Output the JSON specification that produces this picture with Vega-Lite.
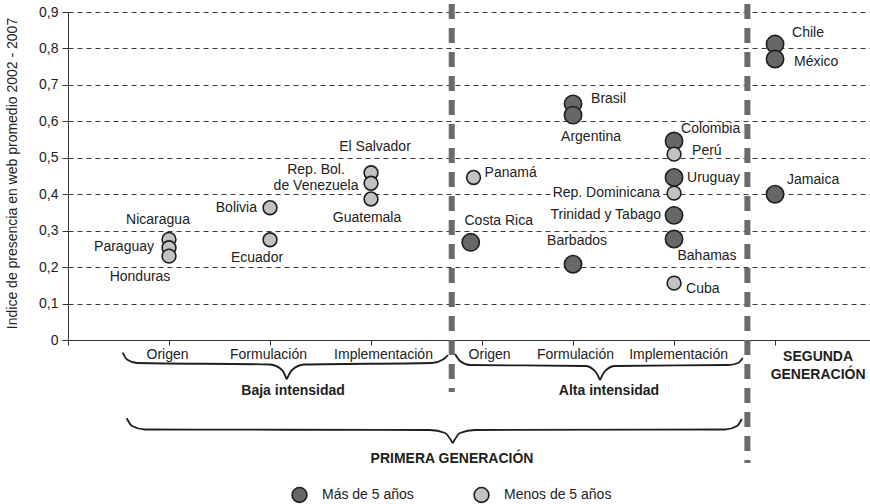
{
  "$schema": "https://vega.github.io/schema/vega-lite/v6.json",
  "width": 802,
  "height": 328,
  "autosize": "none",
  "padding": {"left": 68, "top": 12, "right": 0, "bottom": 164},
  "background": "white",
  "config": {
    "view": {"stroke": null},
    "font": "Liberation Sans",
    "text": {"font": "Liberation Sans", "fontSize": 14, "color": "#222"}
  },
  "datasets": {
    "paises": [
      {"pais": "Nicaragua", "x": 1, "y": 0.276, "antiguedad": "Menos de 5 años"},
      {"pais": "Paraguay", "x": 1, "y": 0.253, "antiguedad": "Menos de 5 años"},
      {"pais": "Honduras", "x": 1, "y": 0.23, "antiguedad": "Menos de 5 años"},
      {"pais": "Bolivia", "x": 2, "y": 0.363, "antiguedad": "Menos de 5 años"},
      {"pais": "Ecuador", "x": 2, "y": 0.275, "antiguedad": "Menos de 5 años"},
      {"pais": "El Salvador", "x": 3, "y": 0.459, "antiguedad": "Menos de 5 años"},
      {"pais": "Rep. Bol.\nde Venezuela", "x": 3, "y": 0.43, "antiguedad": "Menos de 5 años"},
      {"pais": "Guatemala", "x": 3, "y": 0.387, "antiguedad": "Menos de 5 años"},
      {"pais": "Panamá", "x": 4.015, "y": 0.446, "antiguedad": "Menos de 5 años"},
      {"pais": "Costa Rica", "x": 3.987, "y": 0.268, "antiguedad": "Más de 5 años"},
      {"pais": "Brasil", "x": 5, "y": 0.648, "antiguedad": "Más de 5 años"},
      {"pais": "Argentina", "x": 5, "y": 0.617, "antiguedad": "Más de 5 años"},
      {"pais": "Barbados", "x": 5, "y": 0.208, "antiguedad": "Más de 5 años"},
      {"pais": "Colombia", "x": 6, "y": 0.546, "antiguedad": "Más de 5 años"},
      {"pais": "Perú", "x": 6, "y": 0.51, "antiguedad": "Menos de 5 años"},
      {"pais": "Uruguay", "x": 6, "y": 0.446, "antiguedad": "Más de 5 años"},
      {"pais": "Rep. Dominicana", "x": 6, "y": 0.403, "antiguedad": "Menos de 5 años"},
      {"pais": "Trinidad y Tabago", "x": 6, "y": 0.342, "antiguedad": "Más de 5 años"},
      {"pais": "Bahamas", "x": 6, "y": 0.277, "antiguedad": "Más de 5 años"},
      {"pais": "Cuba", "x": 6, "y": 0.156, "antiguedad": "Menos de 5 años"},
      {"pais": "Chile", "x": 7, "y": 0.812, "antiguedad": "Más de 5 años"},
      {"pais": "México", "x": 7, "y": 0.771, "antiguedad": "Más de 5 años"},
      {"pais": "Jamaica", "x": 7, "y": 0.4, "antiguedad": "Más de 5 años"}
    ],
    "divisores": [
      {"x": 3.799, "y": 0.922, "y2": -0.1427},
      {"x": 6.726, "y": 0.922, "y2": -0.3375}
    ],
    "llaves": [
      {"tramo": "baja-a", "x": 0.542, "y": -0.0348},
      {"tramo": "baja-a", "x": 0.584, "y": -0.0535},
      {"tramo": "baja-a", "x": 0.683, "y": -0.0631},
      {"tramo": "baja-a", "x": 2.0, "y": -0.0672},
      {"tramo": "baja-a", "x": 2.119, "y": -0.0823},
      {"tramo": "baja-a", "x": 2.165, "y": -0.1078},
      {"tramo": "baja-b", "x": 2.165, "y": -0.1078},
      {"tramo": "baja-b", "x": 2.218, "y": -0.0823},
      {"tramo": "baja-b", "x": 2.337, "y": -0.0672},
      {"tramo": "baja-b", "x": 3.604, "y": -0.0631},
      {"tramo": "baja-b", "x": 3.713, "y": -0.0535},
      {"tramo": "baja-b", "x": 3.762, "y": -0.0412},
      {"tramo": "alta-a", "x": 3.832, "y": -0.0384},
      {"tramo": "alta-a", "x": 3.881, "y": -0.0576},
      {"tramo": "alta-a", "x": 3.98, "y": -0.0686},
      {"tramo": "alta-a", "x": 5.119, "y": -0.0713},
      {"tramo": "alta-a", "x": 5.218, "y": -0.0851},
      {"tramo": "alta-a", "x": 5.267, "y": -0.1098},
      {"tramo": "alta-b", "x": 5.267, "y": -0.1098},
      {"tramo": "alta-b", "x": 5.317, "y": -0.0851},
      {"tramo": "alta-b", "x": 5.416, "y": -0.0713},
      {"tramo": "alta-b", "x": 6.535, "y": -0.0686},
      {"tramo": "alta-b", "x": 6.634, "y": -0.0631},
      {"tramo": "alta-b", "x": 6.68, "y": -0.0494},
      {"tramo": "prim-a", "x": 0.581, "y": -0.2148},
      {"tramo": "prim-a", "x": 0.634, "y": -0.236},
      {"tramo": "prim-a", "x": 0.762, "y": -0.2456},
      {"tramo": "prim-a", "x": 3.584, "y": -0.247},
      {"tramo": "prim-a", "x": 3.733, "y": -0.2552},
      {"tramo": "prim-a", "x": 3.809, "y": -0.2834},
      {"tramo": "prim-b", "x": 3.809, "y": -0.2834},
      {"tramo": "prim-b", "x": 3.881, "y": -0.2552},
      {"tramo": "prim-b", "x": 4.03, "y": -0.247},
      {"tramo": "prim-b", "x": 6.505, "y": -0.2456},
      {"tramo": "prim-b", "x": 6.624, "y": -0.236},
      {"tramo": "prim-b", "x": 6.671, "y": -0.2168}
    ],
    "notas": [
      {"nota": "Baja intensidad", "x": 2.228, "y": -0.139},
      {"nota": "Alta intensidad", "x": 5.356, "y": -0.139},
      {"nota": "PRIMERA GENERACIÓN", "x": 3.802, "y": -0.3265},
      {"nota": "SEGUNDA\nGENERACIÓN", "x": 7.426, "y": -0.0458}
    ]
  },
  "encoding": {
    "x": {
      "field": "x",
      "type": "quantitative",
      "scale": {"domain": [0, 7.94], "nice": false, "zero": false},
      "axis": {
        "title": null,
        "orient": "bottom",
        "values": [0, 1, 2, 3, 4.1, 5, 6, 7],
        "labelExpr": "datum.value == 1 || datum.value == 4.1 ? 'Origen' : datum.value == 2 || datum.value == 5 ? 'Formulación' : datum.value == 3 || datum.value == 6 ? 'Implementación' : ''",
        "labelOffset": {"condition": [{"test": "datum.value == 3", "value": 12}, {"test": "datum.value == 4.1", "value": 7}, {"test": "datum.value == 6", "value": 4}, {"test": "datum.value == 5", "value": 2}], "value": -2},
        "grid": false,
        "tickSize": 5,
        "labelPadding": 2,
        "labelFont": "Liberation Sans",
        "labelFontSize": 14,
        "labelColor": "#222",
        "labelOverlap": false,
        "labelFlush": false,
        "domainColor": "#333",
        "tickColor": "#333"
      }
    },
    "y": {
      "field": "y",
      "type": "quantitative",
      "scale": {"domain": [0, 0.9], "nice": false, "zero": false},
      "axis": {
        "title": "Indice de presencia en web promedio 2002 - 2007",
        "orient": "left",
        "values": [0, 0.1, 0.2, 0.3, 0.4, 0.5, 0.6, 0.7, 0.8, 0.9],
        "labelExpr": "datum.value == 0 ? '0' : replace(format(datum.value, '.1f'), '.', ',')",
        "grid": true,
        "gridDash": [5, 4],
        "gridColor": "#3a3a3a",
        "gridWidth": 1,
        "tickSize": 6,
        "labelPadding": 4,
        "labelFont": "Liberation Sans",
        "labelFontSize": 14,
        "labelColor": "#222",
        "domainColor": "#333",
        "tickColor": "#333",
        "titleFont": "Liberation Sans",
        "titleFontSize": 14,
        "titleFontWeight": "normal",
        "titleColor": "#222",
        "titleX": -55.5,
        "titleY": 161,
        "titleAngle": -90,
        "titleAlign": "center",
        "titleBaseline": "middle"
      }
    }
  },
  "layer": [
    {
      "data": {"name": "divisores"},
      "mark": {"type": "rule", "stroke": "#6b6b6b", "strokeWidth": 6, "strokeDash": [15, 9]},
      "encoding": {"y2": {"field": "y2"}}
    },
    {
      "data": {"name": "llaves"},
      "mark": {"type": "line", "interpolate": "monotone", "stroke": "#1e1e1e", "strokeWidth": 1.8},
      "encoding": {"detail": {"field": "tramo", "type": "nominal"}}
    },
    {
      "data": {"name": "notas"},
      "mark": {"type": "text", "fontWeight": "bold", "fontSize": 14, "align": "center", "baseline": "middle", "lineBreak": "\n", "lineHeight": 18.3, "color": "#1e1e1e"},
      "encoding": {"text": {"field": "nota"}}
    },
    {
      "data": {"name": "paises"},
      "mark": {"type": "point", "shape": "circle", "filled": true, "opacity": 1, "stroke": "#1e1e1e", "strokeWidth": 1.6},
      "encoding": {
        "fill": {
          "field": "antiguedad",
          "type": "nominal",
          "scale": {"domain": ["Más de 5 años", "Menos de 5 años"], "range": ["#676767", "#c2c2c2"]},
          "legend": {
            "orient": "none",
            "legendX": 223,
            "legendY": 474,
            "direction": "horizontal",
            "title": null,
            "padding": 0,
            "symbolType": "circle",
            "symbolSize": 220,
            "symbolStrokeColor": "#1e1e1e",
            "symbolStrokeWidth": 1.6,
            "symbolOpacity": 1,
            "labelFont": "Liberation Sans",
            "labelFontSize": 14,
            "labelColor": "#222",
            "labelOffset": 14,
            "columnPadding": 56
          }
        },
        "size": {
          "condition": {"test": "datum.antiguedad == 'Más de 5 años'", "value": 300},
          "value": 190
        }
      }
    },
    {
      "data": {"name": "paises"},
      "encoding": {"text": {"field": "pais"}},
      "layer": [
        {"transform": [{"filter": {"field": "pais", "equal": "Nicaragua"}}], "mark": {"type": "text", "align": "center", "baseline": "middle", "dx": -11, "dy": -19}},
        {"transform": [{"filter": {"field": "pais", "equal": "Paraguay"}}], "mark": {"type": "text", "align": "right", "baseline": "middle", "dx": -15, "dy": -1}},
        {"transform": [{"filter": {"field": "pais", "equal": "Honduras"}}], "mark": {"type": "text", "align": "center", "baseline": "middle", "dx": -29, "dy": 21}},
        {"transform": [{"filter": {"field": "pais", "equal": "Bolivia"}}], "mark": {"type": "text", "align": "right", "baseline": "middle", "dx": -13, "dy": 0}},
        {"transform": [{"filter": {"field": "pais", "equal": "Ecuador"}}], "mark": {"type": "text", "align": "center", "baseline": "middle", "dx": -13, "dy": 18}},
        {"transform": [{"filter": {"field": "pais", "equal": "El Salvador"}}], "mark": {"type": "text", "align": "center", "baseline": "middle", "dx": 4, "dy": -26}},
        {"transform": [{"filter": "indexof(datum.pais, 'Venezuela') >= 0"}], "mark": {"type": "text", "align": "center", "baseline": "middle", "lineBreak": "\n", "lineHeight": 15.5, "dx": -55, "dy": -13}},
        {"transform": [{"filter": {"field": "pais", "equal": "Guatemala"}}], "mark": {"type": "text", "align": "center", "baseline": "middle", "dx": -4, "dy": 19}},
        {"transform": [{"filter": {"field": "pais", "equal": "Panamá"}}], "mark": {"type": "text", "align": "left", "baseline": "middle", "dx": 11, "dy": -4}},
        {"transform": [{"filter": {"field": "pais", "equal": "Costa Rica"}}], "mark": {"type": "text", "align": "center", "baseline": "middle", "dx": 28, "dy": -21}},
        {"transform": [{"filter": {"field": "pais", "equal": "Brasil"}}], "mark": {"type": "text", "align": "left", "baseline": "middle", "dx": 18, "dy": -5}},
        {"transform": [{"filter": {"field": "pais", "equal": "Argentina"}}], "mark": {"type": "text", "align": "center", "baseline": "middle", "dx": 18, "dy": 22}},
        {"transform": [{"filter": {"field": "pais", "equal": "Barbados"}}], "mark": {"type": "text", "align": "center", "baseline": "middle", "dx": 4, "dy": -23}},
        {"transform": [{"filter": {"field": "pais", "equal": "Colombia"}}], "mark": {"type": "text", "align": "left", "baseline": "middle", "dx": 7, "dy": -12}},
        {"transform": [{"filter": {"field": "pais", "equal": "Perú"}}], "mark": {"type": "text", "align": "left", "baseline": "middle", "dx": 18, "dy": -3}},
        {"transform": [{"filter": {"field": "pais", "equal": "Uruguay"}}], "mark": {"type": "text", "align": "left", "baseline": "middle", "dx": 13, "dy": 1}},
        {"transform": [{"filter": {"field": "pais", "equal": "Rep. Dominicana"}}], "mark": {"type": "text", "align": "right", "baseline": "middle", "dx": -14, "dy": 0, "stroke": "white", "strokeWidth": 6, "fill": "white"}},
        {"transform": [{"filter": {"field": "pais", "equal": "Rep. Dominicana"}}], "mark": {"type": "text", "align": "right", "baseline": "middle", "dx": -14, "dy": 0}},
        {"transform": [{"filter": {"field": "pais", "equal": "Trinidad y Tabago"}}], "mark": {"type": "text", "align": "right", "baseline": "middle", "dx": -13, "dy": 0}},
        {"transform": [{"filter": {"field": "pais", "equal": "Bahamas"}}], "mark": {"type": "text", "align": "center", "baseline": "middle", "dx": 33, "dy": 17}},
        {"transform": [{"filter": {"field": "pais", "equal": "Cuba"}}], "mark": {"type": "text", "align": "left", "baseline": "middle", "dx": 12, "dy": 6}},
        {"transform": [{"filter": {"field": "pais", "equal": "Chile"}}], "mark": {"type": "text", "align": "left", "baseline": "middle", "dx": 17, "dy": -11}},
        {"transform": [{"filter": {"field": "pais", "equal": "México"}}], "mark": {"type": "text", "align": "left", "baseline": "middle", "dx": 19, "dy": 3}},
        {"transform": [{"filter": {"field": "pais", "equal": "Jamaica"}}], "mark": {"type": "text", "align": "left", "baseline": "middle", "dx": 12, "dy": -14}}
      ]
    }
  ]
}
